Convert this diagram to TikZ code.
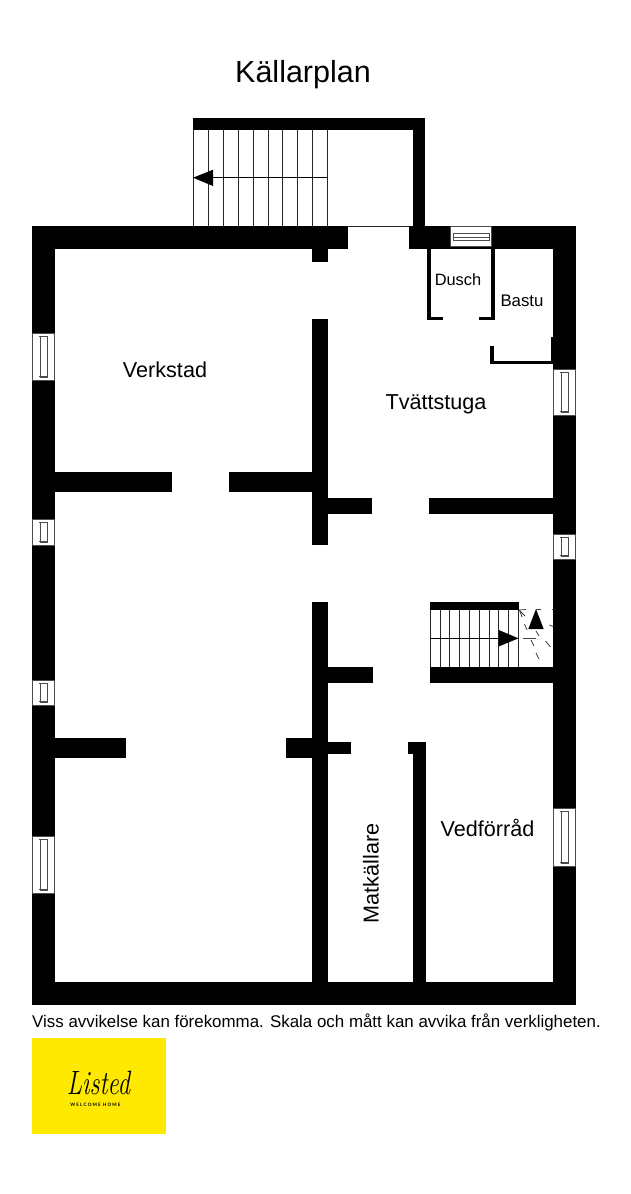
\documentclass[tikz,border=0pt]{standalone}
\usepackage{fontspec}
\setmainfont{Liberation Sans}
\newfontfamily\logofont{Latin Modern Roman}
\newfontfamily\logosmall{Lato}
\definecolor{logoyellow}{HTML}{FFE900}
\tikzset{
  wall/.style={fill=black,draw=none},
  thin line/.style={draw=black!85,line width=1pt},
  hair/.style={draw=black,line width=0.8pt},
  frag/.style={draw=black!75,line width=0.8pt},
  winframe/.style={fill=white,draw=black!70,line width=0.8pt},
  winpane/.style={fill=white,draw=black!70,line width=0.6pt},
  room/.style={font=\fontsize{21.6}{24}\selectfont,text=black,inner sep=0pt},
  dusch label/.style={font=\fontsize{16.4}{18}\selectfont,text=black,inner sep=0pt},
  bastu label/.style={font=\fontsize{16.8}{18}\selectfont,text=black,inner sep=0pt},
}
\newcommand{\vwindow}[3]{% x-left, y-top, y-bottom
  \draw[winframe] (#1+0.4,#2) rectangle (#1+22.6,#3);
  \draw[winpane] (#1+8,#2+3) rectangle (#1+15,#3-3);
  \draw[winpane] (#1+7,#2+3.5) -- (#1+16,#2+3.5);
  \draw[winpane] (#1+7,#3-3.5) -- (#1+16,#3-3.5);
}
\begin{document}
\begin{tikzpicture}[x=1pt,y=-1pt]
\useasboundingbox (0,0) rectangle (631,1194);
\fill[white] (0,0) rectangle (631,1194);

% outer walls
\fill[wall] (32,226) rectangle (348,249);
\fill[wall] (409,226) rectangle (576,249);
\fill[wall] (32,226) rectangle (55,1005);
\fill[wall] (553,226) rectangle (576,1005);
\fill[wall] (32,982) rectangle (576,1005);
\draw[thin line] (348,226) -- (409,226);
\fill[wall] (550.7,337) rectangle (553,364);

% upper stair enclosure
\fill[wall] (193,118) rectangle (425,130);
\fill[wall] (413,118) rectangle (425,226);
\foreach \x in {193,208,223,238,253,268,282.5,297.5,312.5,327}
  \draw[thin line] (\x,130) -- (\x,226);
\draw[hair] (193,177.7) -- (327,177.7);
\fill[wall] (193,177.7) -- (213,169.7) -- (213,186) -- cycle;

% central wall
\fill[wall] (312,249) rectangle (328,262);
\fill[wall] (312,319) rectangle (328,545);
\fill[wall] (312,602) rectangle (328,982);

% cross walls
\fill[wall] (55,472) rectangle (172,492);
\fill[wall] (229,472) rectangle (312,492);
\fill[wall] (328,498) rectangle (372,514);
\fill[wall] (429,498) rectangle (553,514);
\fill[wall] (328,667) rectangle (373,683);
\fill[wall] (430,667) rectangle (553,683);
\fill[wall] (55,738) rectangle (126,758);
\fill[wall] (286,738) rectangle (312,758);
\fill[wall] (328,742) rectangle (351,754);
\fill[wall] (413.3,742) rectangle (426,982);
\fill[wall] (407.7,742) rectangle (426,754);

% Dusch
\fill[wall] (427,249) rectangle (431,320);
\fill[wall] (427,316.5) rectangle (442.5,320);
\fill[wall] (490.5,249) rectangle (494.7,320);
\fill[wall] (479,316.5) rectangle (494.7,320);

% Bastu
\fill[wall] (490,346) rectangle (494,364);
\fill[wall] (490,360.7) rectangle (553,364);

% lower stair
\fill[wall] (430,602) rectangle (519,610);
\foreach \x in {430,440,449.7,459.3,469.3,479,489,498.7,508.7,518.3}
  \draw[thin line] (\x,610) -- (\x,667);
\draw[hair] (430,638.3) -- (518,638.3);
\fill[wall] (518.5,638.3) -- (498.7,630) -- (498.7,646.5) -- cycle;
\fill[wall] (536,609) -- (528.3,629) -- (543.7,629) -- cycle;
\draw[frag] (519,610) -- (526,609.5);
\draw[frag] (519,610) -- (525,616);
\draw[frag] (520,611) -- (522,617);
\draw[frag] (524.5,624) -- (527,630);
\draw[frag] (536,609) -- (541,609);
\draw[frag] (552,609) -- (553,609);
\draw[frag] (549.5,625) -- (553,626.5);
\draw[frag] (523,638.3) -- (536,638.3);
\draw[frag] (536,631) -- (539,636);
\draw[frag] (531,640) -- (534,646);
\draw[frag] (545.5,641) -- (550.5,647);
\draw[frag] (536,653) -- (539,659);

% windows
\vwindow{32}{333}{380}
\vwindow{32}{519}{545}
\vwindow{32}{680}{705}
\vwindow{32}{836}{893}
\vwindow{553}{369}{415}
\vwindow{553}{534}{559}
\vwindow{553}{808}{866}
\draw[winframe] (450,226.4) rectangle (491,246.7);
\draw[winpane] (453,233) rectangle (489,240.7);
\draw[winpane] (453,236.8) -- (489,236.8);

% texts
\node[inner sep=0pt,font=\fontsize{30.5}{34}\selectfont] (title) at (303,74.5) {Källarplan};
\node[room] (verkstad) at (165,369.5) {Verkstad};
\node[room] (tvatt) at (436,404) {Tvättstuga};
\node[dusch label] (dusch) at (458,280) {Dusch};
\node[bastu label] (bastu) at (522,301) {Bastu};
\node[room,rotate=90] (mat) at (371,873.5) {Matkällare};
\node[room] (ved) at (487.5,828) {Vedförråd};
\node[anchor=west,inner sep=0pt,font=\fontsize{16.9}{20}\selectfont] (note) at (32,1022) {Viss avvikelse kan förekomma. Skala och mått kan avvika från verkligheten.};

% logo
\fill[logoyellow] (32,1038) rectangle (166,1134);
\node[inner sep=0pt,yscale=1.35,font=\logofont\itshape\fontsize{25}{28}\selectfont] (listed) at (98.5,1083) {Listed};
\node[inner sep=0pt,font=\logosmall\bfseries\fontsize{4.6}{6}\selectfont] (welcome) at (95.5,1104.5) {W E L C O M E\ \ H O M E};
\end{tikzpicture}
\end{document}
